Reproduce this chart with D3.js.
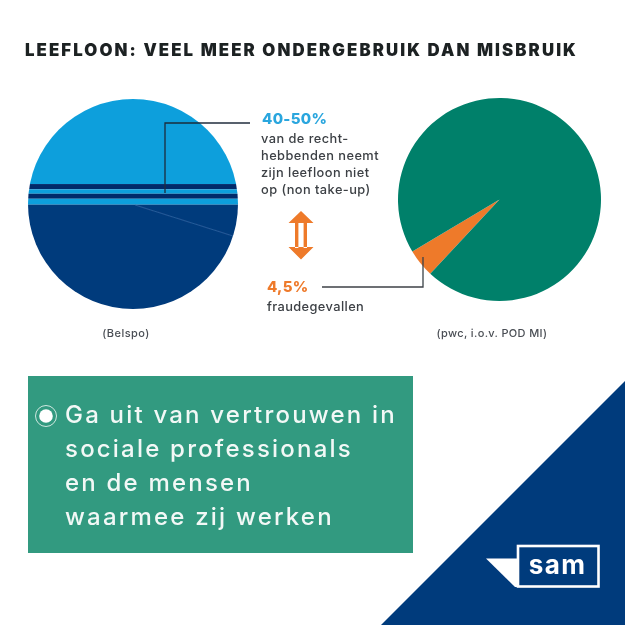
<!DOCTYPE html>
<html><head><meta charset="utf-8">
<script src="https://cdn.jsdelivr.net/npm/d3@7"></script>
<style>html,body{margin:0;padding:0;background:#fff}svg{display:block}text{font-family:Inter,"Open Sans",sans-serif}</style>
</head><body><script>
const titleText = "LEEFLOON: VEEL MEER ONDERGEBRUIK DAN MISBRUIK";
const bandNames = ["takeup","line1","gap","line2","gap2","rest"];
const bandValues = [40.5,2.5,2.1,2.4,2.8,49.7];
const bandColors = ["#0a9fdc","#04296b","#0a9fdc","#04296b","#0a9fdc","#063a7b"];
const fraudLabels = ["fraude","overig"];
const fraudValues = [4.5,95.5];
const fraudColors = ["#ee7a2b","#04806a"];
const topNote = ["van de recht-","hebbenden neemt","zijn leefloon niet","op (non take-up)"];
const boxLines = ["Ga uit van vertrouwen in","sociale professionals","en de mensen","waarmee zij werken"];

const svg = d3.select("body").append("svg").attr("width",625).attr("height",625);
const soft = svg.append("defs").append("filter").attr("id","soft");
soft.append("feGaussianBlur").attr("stdDeviation",0.4);
const root = svg.append("g").attr("filter","url(#soft)");

root.append("text").text(titleText).attr("x",25).attr("y",56)
  .attr("font-size",16.8).attr("font-weight",900).attr("letter-spacing",2.1).attr("fill","#1d2024");

// left pie: horizontal bands clipped to a circle
const L = {cx:133,cy:204,r:105};
svg.select("defs").append("clipPath").attr("id","lc").append("circle").attr("cx",L.cx).attr("cy",L.cy).attr("r",L.r);
const yBand = d3.scaleLinear().domain([0,d3.sum(bandValues)]).range([L.cy-L.r,L.cy+L.r]);
const cum = d3.cumsum(bandValues);
const gL = root.append("g").attr("clip-path","url(#lc)");
gL.selectAll("rect").data(bandValues).join("rect")
  .attr("x",L.cx-L.r).attr("width",2*L.r)
  .attr("y",(d,i)=>yBand(cum[i]-d)).attr("height",d=>yBand(d)-yBand(0))
  .attr("fill",(d,i)=>bandColors[i]);
gL.append("line").attr("x1",135).attr("y1",205).attr("x2",233).attr("y2",236).attr("stroke","#2f6aa6").attr("stroke-width",0.7);

// right pie
const R = {cx:499.5,cy:199.5,r:101.5};
const pie = d3.pie().sort(null).startAngle(223*Math.PI/180).endAngle((223+360)*Math.PI/180);
const arc = d3.arc().innerRadius(0).outerRadius(R.r);
root.append("g").attr("transform",`translate(${R.cx},${R.cy})`)
  .selectAll("path").data(pie(fraudValues)).join("path").attr("d",arc).attr("fill",(d,i)=>fraudColors[i]);

// leaders
root.append("path").attr("d","M250 123H165V193").attr("fill","none").attr("stroke","#1f2c3c").attr("stroke-width",1.3);
root.append("path").attr("d","M322 287H423V257").attr("fill","none").attr("stroke","#3c4148").attr("stroke-width",1.3);

// notes
root.append("text").text("40-50%").attr("x",262).attr("y",124).attr("font-size",15).attr("font-weight",800).attr("letter-spacing",0.3).attr("fill","#2aa6de");
root.selectAll(".tn").data(topNote).join("text").attr("class","tn").text(d=>d)
  .attr("x",261).attr("y",(d,i)=>142.5+i*17).attr("font-size",12.8).attr("font-weight",500).attr("letter-spacing",0.45).attr("fill","#3c4045");
root.append("text").text("4,5%").attr("x",267).attr("y",292).attr("font-size",15).attr("font-weight",800).attr("letter-spacing",0.3).attr("fill","#ee7a2b");
root.append("text").text("fraudegevallen").attr("x",267).attr("y",310.5).attr("font-size",12.8).attr("font-weight",500).attr("letter-spacing",0.4).attr("fill","#3c4045");
root.append("text").text("(Belspo)").attr("x",126).attr("y",337).attr("text-anchor","middle").attr("font-size",11).attr("font-weight",500).attr("letter-spacing",0.45).attr("fill","#4a4e54");
root.append("text").text("(pwc, i.o.v. POD MI)").attr("x",492).attr("y",337).attr("text-anchor","middle").attr("font-size",11).attr("font-weight",500).attr("letter-spacing",0.35).attr("fill","#4a4e54");

// double arrow
const A = root.append("g").attr("fill","#ee7a2b");
A.append("path").attr("d","M301 211L313.5 223H288.5ZM301 259.5L313.5 247H288.5ZM295 222H298.4V248H295ZM303.6 222H307V248H303.6Z");

// box
root.append("rect").attr("x",28).attr("y",376).attr("width",385).attr("height",177).attr("fill","#329a80");
root.append("circle").attr("cx",46).attr("cy",416).attr("r",10.5).attr("fill","none").attr("stroke","#cfe8e0").attr("stroke-width",1);
root.append("circle").attr("cx",46).attr("cy",416).attr("r",6.8).attr("fill","#fff");
root.selectAll(".bl").data(boxLines).join("text").attr("class","bl").text(d=>d)
  .attr("x",65).attr("y",(d,i)=>423+i*34).attr("font-size",24).attr("font-weight",500).attr("letter-spacing",2.2).attr("fill","#f2f8f6");

// corner + logo
root.append("path").attr("d","M381 625L625 381V625Z").attr("fill","#063a7b");
root.append("path").attr("d","M486 558.5H517.5V587H515Z").attr("fill","#fff");
root.append("rect").attr("x",518).attr("y",546).attr("width",80.5).attr("height",40.5).attr("fill","#063a7b").attr("stroke","#fff").attr("stroke-width",2.6);
root.append("text").text("sam").attr("x",557.5).attr("y",573.5).attr("text-anchor","middle").attr("font-size",26).attr("font-weight",700).attr("letter-spacing",1.4).attr("fill","#fff");
</script></body></html>
